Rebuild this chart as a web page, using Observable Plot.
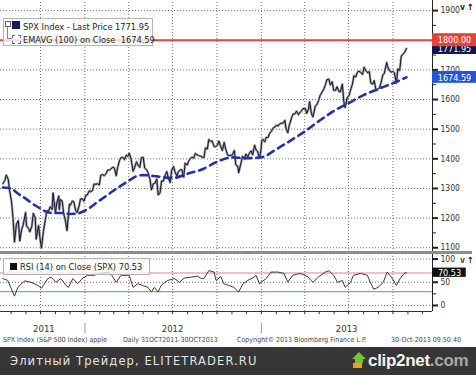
<!DOCTYPE html>
<html><head><meta charset="utf-8">
<script src="https://cdn.jsdelivr.net/npm/d3@7"></script>
<script src="https://cdn.jsdelivr.net/npm/@observablehq/plot@0.6"></script>
<style>
body{margin:0;background:#fff;}
#wrap{position:relative;width:476px;height:375px;overflow:hidden;font-family:"DejaVu Sans Condensed","DejaVu Sans",sans-serif;background:#fff;}
#wrap svg{position:absolute;left:0;background:transparent;}
.abs{position:absolute;white-space:nowrap;line-height:1;}
</style></head><body><div id="wrap"></div>
<script>
// ---------- data ----------
const priceDates = [
"2011-07-15","2011-07-19","2011-07-22","2011-07-26","2011-07-29","2011-08-02","2011-08-05","2011-08-08","2011-08-12","2011-08-16",
"2011-08-19","2011-08-23","2011-08-26","2011-08-31","2011-09-02","2011-09-06","2011-09-09","2011-09-13","2011-09-16","2011-09-20",
"2011-09-22","2011-09-27","2011-09-30","2011-10-03","2011-10-07","2011-10-11","2011-10-14","2011-10-18","2011-10-21","2011-10-25",
"2011-10-27","2011-11-01","2011-11-04","2011-11-08","2011-11-09","2011-11-11","2011-11-15","2011-11-18","2011-11-22","2011-11-25",
"2011-11-30","2011-12-02","2011-12-06","2011-12-09","2011-12-13","2011-12-16","2011-12-20","2011-12-23","2011-12-27","2011-12-30",
"2012-01-03","2012-01-06","2012-01-10","2012-01-13","2012-01-17","2012-01-20","2012-01-24","2012-01-27","2012-01-31","2012-02-03",
"2012-02-07","2012-02-10","2012-02-14","2012-02-17","2012-02-21","2012-02-24","2012-02-28","2012-03-02","2012-03-06","2012-03-09",
"2012-03-13","2012-03-16","2012-03-20","2012-03-23","2012-03-27","2012-03-30","2012-04-02","2012-04-06","2012-04-10","2012-04-13",
"2012-04-17","2012-04-20","2012-04-24","2012-04-27","2012-05-01","2012-05-04","2012-05-08","2012-05-11","2012-05-15","2012-05-18",
"2012-05-22","2012-05-25","2012-05-29","2012-06-01","2012-06-05","2012-06-08","2012-06-12","2012-06-15","2012-06-19","2012-06-22",
"2012-06-26","2012-06-29","2012-07-03","2012-07-06","2012-07-10","2012-07-13","2012-07-17","2012-07-20","2012-07-24","2012-07-27",
"2012-07-31","2012-08-03","2012-08-07","2012-08-10","2012-08-14","2012-08-17","2012-08-21","2012-08-24","2012-08-28","2012-08-31",
"2012-09-04","2012-09-07","2012-09-11","2012-09-14","2012-09-18","2012-09-21","2012-09-25","2012-09-28","2012-10-02","2012-10-05",
"2012-10-09","2012-10-12","2012-10-16","2012-10-19","2012-10-23","2012-10-26","2012-10-31","2012-11-02","2012-11-06","2012-11-09",
"2012-11-13","2012-11-15","2012-11-20","2012-11-23","2012-11-27","2012-11-30","2012-12-04","2012-12-07","2012-12-11","2012-12-14",
"2012-12-18","2012-12-21","2012-12-24","2012-12-28","2012-12-31",
"2013-01-02","2013-01-04","2013-01-08","2013-01-11","2013-01-15","2013-01-18","2013-01-22","2013-01-25","2013-01-29","2013-02-01",
"2013-02-05","2013-02-08","2013-02-12","2013-02-15","2013-02-19","2013-02-21","2013-02-25","2013-02-28","2013-03-01","2013-03-05",
"2013-03-08","2013-03-12","2013-03-15","2013-03-19","2013-03-22","2013-03-26","2013-03-28","2013-04-02","2013-04-05","2013-04-09",
"2013-04-11","2013-04-15","2013-04-18","2013-04-23","2013-04-26","2013-04-30","2013-05-03","2013-05-07","2013-05-10","2013-05-14",
"2013-05-17","2013-05-21","2013-05-24","2013-05-28","2013-05-31","2013-06-04","2013-06-07","2013-06-11","2013-06-14","2013-06-18",
"2013-06-21","2013-06-24","2013-06-28","2013-07-02","2013-07-05","2013-07-09","2013-07-12","2013-07-16","2013-07-19","2013-07-23",
"2013-07-26","2013-07-30","2013-08-02","2013-08-06","2013-08-09","2013-08-13","2013-08-16","2013-08-20","2013-08-23","2013-08-27",
"2013-08-30","2013-09-03","2013-09-06","2013-09-10","2013-09-13","2013-09-18","2013-09-20","2013-09-24","2013-09-27","2013-10-01",
"2013-10-04","2013-10-08","2013-10-11","2013-10-15","2013-10-18","2013-10-22","2013-10-25","2013-10-29"];
const priceValues = [
1316,1327,1345,1331,1292,1254,1199,1119,1179,1192,
1123,1162,1177,1219,1174,1165,1154,1173,1216,1202,
1129,1175,1131,1099,1155,1195,1224,1225,1238,1229,
1285,1218,1253,1275,1229,1263,1257,1216,1188,1158,
1247,1244,1258,1255,1225,1219,1241,1265,1265,1257,
1277,1278,1292,1289,1293,1315,1314,1316,1312,1345,
1347,1343,1350,1362,1362,1366,1372,1370,1343,1371,
1395,1404,1405,1397,1412,1408,1419,1398,1358,1370,
1390,1379,1371,1403,1405,1369,1363,1353,1331,1295,
1316,1317,1332,1278,1285,1325,1325,1343,1357,1335,
1320,1362,1374,1355,1342,1357,1363,1363,1338,1386,
1379,1391,1402,1405,1403,1418,1413,1411,1409,1406,
1404,1437,1433,1465,1459,1460,1441,1441,1446,1460,
1441,1428,1455,1433,1413,1411,1412,1414,1428,1380,
1375,1353,1387,1409,1399,1416,1407,1418,1427,1413,
1446,1430,1426,1402,1426,
1462,1466,1457,1472,1472,1486,1493,1503,1507,1513,
1511,1518,1520,1520,1530,1502,1488,1515,1518,1540,
1551,1552,1561,1549,1556,1563,1569,1570,1553,1568,
1593,1552,1541,1578,1582,1598,1614,1625,1633,1650,
1667,1669,1649,1660,1631,1631,1643,1627,1626,1652,
1593,1573,1606,1614,1632,1652,1680,1676,1692,1696,
1691,1685,1709,1697,1691,1694,1655,1652,1664,1630,
1633,1640,1655,1683,1688,1725,1710,1697,1692,1695,
1690,1655,1703,1698,1745,1754,1759,1772];

const emaDates = ["2011-07-15","2011-08-01","2011-08-15","2011-09-01","2011-09-15","2011-10-01","2011-10-15","2011-11-01","2011-11-15","2011-12-01","2011-12-15",
"2012-01-01","2012-02-01","2012-03-01","2012-04-01","2012-04-15","2012-05-01","2012-06-01","2012-07-01","2012-08-01","2012-09-01","2012-10-01","2012-11-01","2012-12-01",
"2013-01-01","2013-02-01","2013-03-01","2013-04-01","2013-05-01","2013-06-01","2013-07-01","2013-08-01","2013-09-01","2013-10-01","2013-10-29"];
const emaValues = [1303,1300,1283,1265,1248,1232,1220,1217,1217,1214,1215,
1225,1260,1293,1326,1340,1345,1340,1335,1350,1365,1390,1405,1402,
1405,1432,1460,1492,1528,1562,1588,1615,1636,1655,1675];

const rsiDates = ["2011-07-15","2011-07-25","2011-08-08","2011-08-15","2011-08-29","2011-09-11","2011-09-26","2011-10-03","2011-10-16","2011-10-23",
"2011-11-02","2011-11-12","2011-11-23","2011-11-28","2011-12-07","2011-12-17","2011-12-28","2012-01-07","2012-01-20","2012-02-03",
"2012-02-16","2012-02-24","2012-03-06","2012-03-16","2012-04-02","2012-04-10","2012-04-20","2012-04-30","2012-05-11","2012-05-18",
"2012-05-24","2012-06-01","2012-06-07","2012-06-21","2012-07-05","2012-07-15","2012-07-25","2012-08-08","2012-08-22","2012-08-29",
"2012-09-04","2012-09-14","2012-09-25","2012-09-29","2012-10-09","2012-10-15","2012-10-26","2012-11-05","2012-11-15","2012-11-24",
"2012-12-04","2012-12-17","2012-12-21","2012-12-28","2013-01-11","2013-01-21","2013-02-04","2013-02-17","2013-02-25","2013-03-07",
"2013-03-23","2013-04-07","2013-04-18","2013-04-30","2013-05-14","2013-05-21","2013-05-31","2013-06-08","2013-06-18","2013-06-24",
"2013-07-05","2013-07-11","2013-07-26","2013-08-09","2013-08-15","2013-08-22","2013-08-31","2013-09-11","2013-09-19","2013-09-30",
"2013-10-08","2013-10-16","2013-10-24","2013-10-29"];
const rsiValues = [58,54,20,39,53,50,43,37,58,61,
50,58,43,39,58,47,59,65,65,69,
72,68,50,65,65,39,47,43,39,29,
39,29,43,54,58,50,59,61,63,58,
58,75,72,54,62,47,43,39,29,47,
54,61,65,47,58,72,72,69,50,65,
69,62,50,62,72,75,65,50,54,39,
50,65,69,65,50,35,39,50,72,58,
43,58,69,70.53];

const priceTicks = [1100,1200,1300,1400,1500,1600,1700,1800,1900];
const priceLabelTicks = [1100,1200,1300,1400,1500,1600,1700,1900];
const priceMinor = [1150,1250,1350,1450,1550,1650,1750,1850];
const rsiTicks = [0,50,100];
const rsiMinor = [25,75];
const gridDates = ["2011-10-01","2012-01-01","2012-04-01","2012-07-01","2012-10-01","2013-01-01","2013-04-01","2013-07-01","2013-10-01"];
const yearLabels = ["2011","2012","2013"];
const yearCenters = ["2011-10-08","2012-07-01","2013-06-27"];
const yearSeparators = ["2012-01-01","2013-01-01"];
const lastPrice = 1771.95, lastEma = 1674.59, lastRsi = 70.53, resistance = 1800, rsiHigh = 70, rsiLow = 30;

// ---------- build ----------
const P = d3.utcParse("%Y-%m-%d");
const price = priceDates.map((d,i)=>({date:P(d), v:priceValues[i]}));
const ema = emaDates.map((d,i)=>({date:P(d), v:emaValues[i]}));
const rsi = rsiDates.map((d,i)=>({date:P(d), v:rsiValues[i]}));
const grid = gridDates.map(P);
const xDomain = [P("2011-07-10"), P("2013-12-22")];
const xFar = d3.utcDay.offset(xDomain[1], 92);
const months = d3.utcMonths(P("2011-08-01"), P("2013-12-02"));
const fmt = d3.format("d");
const font = {fontFamily:'"DejaVu Sans Condensed","DejaVu Sans",sans-serif', fontSize:"8.5px", color:"#333", background:"transparent", overflow:"visible"};
const dotted = {stroke:"#6f6f6f", strokeDasharray:"1,2", strokeWidth:1};

const main = Plot.plot({
  width:476, height:252, marginLeft:0, marginRight:44, marginTop:0, marginBottom:0,
  style: font,
  x:{type:"utc", domain:xDomain, axis:null},
  y:{domain:[1084,1934]},
  marks:[
    Plot.ruleY(priceTicks, dotted),
    Plot.ruleX(grid, {...dotted, y1:1084, y2:1934}),
    Plot.line(price, {x:"date", y:"v", stroke:"#a0a0a0", strokeWidth:2.4}),
    Plot.line(price, {x:"date", y:"v", stroke:"#15153a", strokeWidth:1}),
    Plot.line(ema, {x:"date", y:"v", stroke:"#2231a8", strokeWidth:2.6, strokeDasharray:"7,5", curve:"monotone-x"}),
    Plot.ruleY([resistance], {x1:xDomain[0], x2:xFar, stroke:"#e5463b", strokeWidth:2}),
    Plot.ruleX([xDomain[1]], {y1:1084, y2:1934, stroke:"#222"}),
    Plot.axisY(priceTicks, {anchor:"right", tickSize:5, tickFormat:()=>"", strokeWidth:2, stroke:"#222"}),
    Plot.axisY(priceLabelTicks, {anchor:"right", tickSize:0, tickPadding:8, tickFormat:fmt, fill:"#333"}),
    Plot.axisY(priceMinor, {anchor:"right", tickSize:3, tickFormat:()=>"", stroke:"#222"}),
    Plot.rect([lastPrice], {x1:xDomain[1], x2:xFar, y1:d=>d-20, y2:d=>d+20, fill:"#101650"}),
    Plot.text([lastPrice], {x:xDomain[1], y:d=>d, text:d=>d.toFixed(2), dx:22, dy:1, fill:"white", fontSize:9}),
    Plot.rect([resistance], {x1:xDomain[1], x2:xFar, y1:d=>d-22, y2:d=>d+22, fill:"#e2433a"}),
    Plot.text([resistance], {x:xDomain[1], y:d=>d, text:d=>d.toFixed(2), dx:22, fill:"white", fontSize:9}),
    Plot.rect([lastEma], {x1:xDomain[1], x2:xFar, y1:d=>d-20, y2:d=>d+20, fill:"#2257d4"}),
    Plot.text([lastEma], {x:xDomain[1], y:d=>d, text:d=>d.toFixed(2), dx:22, dy:1, fill:"white", fontSize:9})
  ]
});
main.style.top = "0px";

const rsiPlot = Plot.plot({
  width:476, height:97, marginLeft:0, marginRight:44, marginTop:0, marginBottom:39,
  style: font,
  x:{type:"utc", domain:xDomain, axis:null},
  y:{domain:[-13,112]},
  marks:[
    Plot.ruleY(rsiTicks, dotted),
    Plot.ruleX(grid, {...dotted, y1:-13, y2:112}),
    Plot.ruleY([rsiHigh], {stroke:"#e38080", strokeWidth:1.2}),
    Plot.ruleY([rsiLow], {stroke:"#5cc27c", strokeWidth:1.2}),
    Plot.line(rsi, {x:"date", y:"v", stroke:"#3a3a3a", strokeWidth:1}),
    Plot.ruleY([-13], {stroke:"#333"}),
    Plot.ruleX(months, {y1:-13, y2:-20, stroke:"#333"}),
    Plot.ruleX([xDomain[1]], {y1:-13, y2:112, stroke:"#222"}),
    Plot.axisY(rsiTicks, {anchor:"right", tickSize:5, tickPadding:3, tickFormat:fmt, strokeWidth:2, stroke:"#222", fill:"#333"}),
    Plot.axisY(rsiMinor, {anchor:"right", tickSize:3, tickFormat:()=>"", stroke:"#222"}),
    Plot.rect([lastRsi], {x1:xDomain[1], x2:d3.utcDay.offset(xDomain[1],70), y1:d=>d-10, y2:d=>d+10, fill:"#111"}),
    Plot.text([lastRsi], {x:xDomain[1], y:d=>d, text:d=>d.toFixed(2), dx:17, fill:"white", fontSize:9}),
    Plot.ruleX(yearSeparators.map(P), {y1:-39, y2:-61, stroke:"#999"}),
    Plot.text(yearLabels, {x:(d,i)=>P(yearCenters[i]), frameAnchor:"bottom", lineAnchor:"middle", dy:17, fontSize:9.5, fill:"#333"})
  ]
});
rsiPlot.style.top = "253px";

const wrap = document.getElementById("wrap");
wrap.appendChild(main);
wrap.appendChild(rsiPlot);

const html = `
<div class="abs" style="left:0;top:251px;width:472px;height:3px;background:#8d8d8d"></div>
<div class="abs" style="left:3px;top:18px;width:148px;height:26px;border:1px solid #b4b4b4;background:rgba(255,255,255,0.78)"></div>
<div class="abs" style="left:5px;top:21px;width:4px;height:4px;border:1px solid #666"></div>
<div class="abs" style="left:7px;top:27px;width:4px;height:11px;border-left:1px solid #888;border-bottom:1px solid #888"></div>
<div class="abs" style="left:12px;top:21px;width:8px;height:8px;background:#141a5a"></div>
<div class="abs" style="left:12px;top:35px;width:7px;height:7px;border:1px dashed #5a64b0"></div>
<div class="abs" style="left:23px;top:21.5px;font-size:9.2px;color:#222">SPX Index - Last Price ${lastPrice.toFixed(2)}</div>
<div class="abs" style="left:23px;top:35px;font-size:9.2px;color:#222">EMAVG (100) on Close&nbsp;&nbsp;${lastEma.toFixed(2)}</div>
<div class="abs" style="left:3px;top:258px;width:145px;height:15px;border:1px solid #b4b4b4;background:rgba(255,255,255,0.72)"></div>
<div class="abs" style="left:10px;top:263px;width:7px;height:7px;background:#111"></div>
<div class="abs" style="left:20px;top:261.5px;font-size:9.2px;color:#222">RSI (14) on Close (SPX) ${lastRsi.toFixed(2)}</div>
<div class="abs" style="left:3px;top:337px;font-size:7px;color:#444">SPX Index (S&amp;P 500 Index) apple</div>
<div class="abs" style="left:123px;top:337px;font-size:7px;color:#444">Daily 31OCT2011-30OCT2013</div>
<div class="abs" style="left:237px;top:337px;font-size:7px;color:#444">Copyright© 2013 Bloomberg Finance L.P.</div>
<div class="abs" style="left:391px;top:337px;font-size:7px;color:#444">30-Oct-2013 09:50:40</div>
<div class="abs" style="left:0;top:347px;width:476px;height:28px;background:#363636"></div>
<div class="abs" style="left:10px;top:356px;font-family:'DejaVu Sans',sans-serif;font-size:11.5px;letter-spacing:1.1px;color:#e4e4e4">Элитный Трейдер, ELITETRADER.RU</div>
<svg class="abs" style="left:351px;top:352px" width="17" height="17" viewBox="0 0 17 17">
  <path d="M2 16 L2 11 L11 11 L11 16 Z" fill="#f0a020"/>
  <path d="M4 11 L4 7 L1 7 L8 0 L15 7 L12 7 L12 11 Z" fill="#7cc230"/>
</svg>
<div class="abs" style="left:368px;top:352px;font-family:'Liberation Sans',Arial,sans-serif;font-weight:bold;font-size:17px;color:#f4f4f4;letter-spacing:-0.3px">clip2net<span style="color:#a8a8a8">.com</span></div>
`;
wrap.insertAdjacentHTML("beforeend", html);
</script>
</body></html>
